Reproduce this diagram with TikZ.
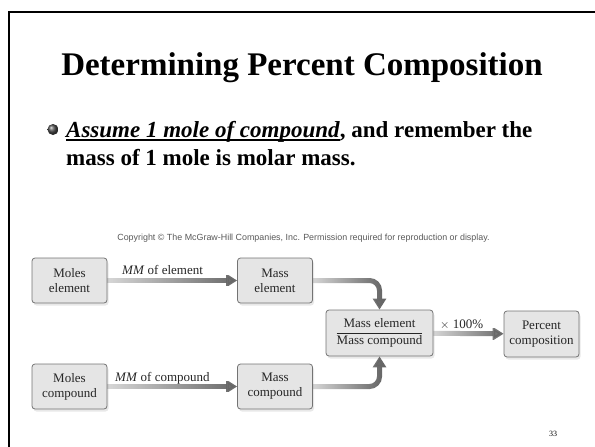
\documentclass[tikz,border=0pt]{standalone}
\usepackage{amsmath}
\usepackage{fontspec}
\setmainfont{Liberation Serif}
\newfontfamily\kisfont{Liberation Sans}
\usetikzlibrary{arrows.meta,shadows,fadings}
\newcommand{\alahuz}[1]{\setbox0=\hbox{#1}\rlap{\rule[-3.5pt]{\wd0}{1.8pt}}\box0}
\tikzfading[name=halvany,left color=transparent!75,right color=transparent!0]
\tikzset{
  doboz/.style={draw=black!55,fill=gray!20,rounded corners=3pt,line width=0.8pt,
                minimum width=75pt,minimum height=45pt,align=center,inner sep=2pt,
                font=\fontsize{13}{15}\selectfont,text=black!85,
                drop shadow={opacity=0.18,shadow xshift=1.5pt,shadow yshift=-2.5pt}},
  folyam/.style={line width=5pt,draw=black!60,-{Triangle[length=11pt,width=13pt]},
                 path fading=halvany,rounded corners=10pt},
  felirat/.style={font=\fontsize{13}{15}\selectfont,text=black!85,inner sep=0pt},
}

\begin{document}
\begin{tikzpicture}[x=1pt,y=-1pt]
  \useasboundingbox (0,0) rectangle (595,447);
  \draw[line width=2.5pt] (9,447) -- (9,12) -- (595,12);
  \node[font=\fontsize{33}{36}\selectfont\bfseries,anchor=base] (cim) at (302,75)
    {Determining Percent Composition};
  \shade[ball color=gray!60!black] (53,129.5) circle (5.5);
  \node[font=\fontsize{23}{28}\selectfont\bfseries,anchor=base west,align=left,inner sep=0pt]
    (szoveg) at (66,165)
    {\alahuz{\textit{Assume 1 mole of compound}}, and remember the\\mass of 1 mole is molar mass.};
  \node[font=\kisfont\fontsize{8.9}{10}\selectfont,text=black!65] (copy) at (303.5,238)
    {Copyright \textcopyright{} The McGraw-Hill Companies, Inc. Permission required for reproduction or display.};
  % dobozok
  \node[doboz] (mel) at (69.5,280.5) {Moles\\element};
  \node[doboz] (mas) at (275,280.5) {Mass\\element};
  \node[doboz] (mco) at (69.5,386.5) {Moles\\compound};
  \node[doboz] (masco) at (275,386.5) {Mass\\compound};
  \node[doboz,minimum width=107pt,minimum height=46pt] (frac) at (379.5,333)
    {$\dfrac{\text{Mass element}}{\text{Mass compound}}$};
  \node[doboz,minimum height=46pt] (pct) at (541.5,334) {Percent\\composition};
  % nyilak
  \draw[folyam] (mel) -- (mas);
  \draw[folyam] (mco) -- (masco);
  \draw[folyam] (mas.east) -| (frac.north);
  \draw[folyam] (masco.east) -| (frac.south);
  \draw[folyam] (frac) -- (pct);
  \node[felirat,anchor=base west] (l1) at (122,274) {\textit{MM} of element};
  \node[felirat,anchor=base west] (l2) at (115,381) {\textit{MM} of compound};
  \node[felirat,anchor=base west] (l3) at (440,328) {$\times$ 100\%};
  \node[font=\fontsize{8}{9}\selectfont] (oldal) at (553,434) {33};
\end{tikzpicture}
\end{document}
